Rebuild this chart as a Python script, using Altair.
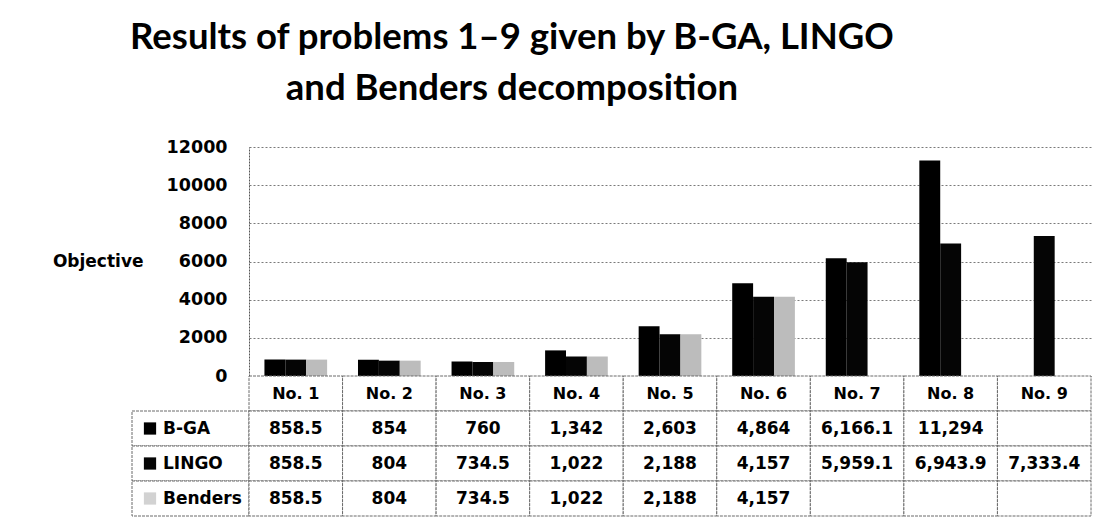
import altair as alt
import pandas as pd

categories = ["No. 1", "No. 2", "No. 3", "No. 4", "No. 5", "No. 6", "No. 7", "No. 8", "No. 9"]
series = ["B-GA", "LINGO", "Benders"]
bga = [858.5, 854, 760, 1342, 2603, 4864, 6166.1, 11294, None]
lingo = [858.5, 804, 734.5, 1022, 2188, 4157, 5959.1, 6943.9, 7333.4]
benders = [858.5, 804, 734.5, 1022, 2188, 4157, None, None, None]
y_ticks = [0, 2000, 4000, 6000, 8000, 10000, 12000]

bar_colors = ["#000000", "#050505", "#bcbcbc"]
key_colors = ["#000000", "#050505", "#d2d2d2"]


def fmt(v):
    if v is None:
        return ""
    s = f"{v:,.1f}"
    if s.endswith(".0"):
        s = s[:-2]
    return s


rows = []
for s, vals in zip(series, [bga, lingo, benders]):
    for c, v in zip(categories, vals):
        rows.append({"category": c, "series": s, "value": v, "text": fmt(v)})
df = pd.DataFrame(rows)
bars_df = df.dropna(subset=["value"]).reset_index(drop=True)

PLOT_W = 842
PLOT_H = 229
FONT = "DejaVu Sans"

bars = (
    alt.Chart(bars_df)
    .mark_bar()
    .encode(
        x=alt.X(
            "category:N",
            sort=categories,
            scale=alt.Scale(domain=categories, paddingInner=0.33, paddingOuter=0.165),
            axis=None,
        ),
        xOffset=alt.XOffset(
            "series:N",
            sort=series,
            scale=alt.Scale(domain=series, paddingInner=0, paddingOuter=0),
        ),
        y=alt.Y(
            "value:Q",
            scale=alt.Scale(domain=[0, 12000], nice=False),
            axis=alt.Axis(
                values=y_ticks,
                format="d",
                title="Objective",
                titleAngle=0,
                titleX=-106,
                titleY=PLOT_H / 2,
                titleAlign="right",
                titleBaseline="middle",
                titleFont=FONT,
                titleFontSize=17,
                titleFontWeight="bold",
                titleColor="#000000",
                labelFont=FONT,
                labelFontSize=17.5,
                labelFontWeight="bold",
                labelColor="#000000",
                labelPadding=22,
                ticks=False,
                domainColor="#555555",
                domainDash=[2, 1],
                grid=True,
                gridColor="#7a7a7a",
                gridDash=[2, 2],
                gridWidth=1,
            ),
        ),
        color=alt.Color(
            "series:N",
            scale=alt.Scale(domain=series, range=bar_colors),
            legend=None,
        ),
    )
    .properties(width=PLOT_W, height=PLOT_H)
)

# ---- data table under the plot ----
hdr_df = pd.DataFrame({"category": categories, "row": ["hdr"] * len(categories), "text": categories})
cell_df = df[["category", "series", "text"]].rename(columns={"series": "row"})
table_df = pd.concat([hdr_df, cell_df], ignore_index=True)
row_domain = ["hdr"] + series

x_tab = alt.X("category:N", sort=categories,
              scale=alt.Scale(domain=categories, paddingInner=0, paddingOuter=0), axis=None)
y_tab = alt.Y("row:N", sort=row_domain,
              scale=alt.Scale(domain=row_domain, paddingInner=0, paddingOuter=0), axis=None)

border = "#6a6a6a"

cells = alt.Chart(table_df).mark_rect(
    fill="white", stroke=border, strokeWidth=1, strokeDash=[3, 1]
).encode(x=x_tab, y=y_tab)

hdr_text = alt.Chart(table_df).transform_filter(alt.datum.row == "hdr").mark_text(
    font=FONT, fontSize=16, fontWeight="bold", color="#000000"
).encode(x=x_tab, y=y_tab, text="text:N")

val_text = alt.Chart(table_df).transform_filter(alt.datum.row != "hdr").mark_text(
    font=FONT, fontSize=17, fontWeight="bold", color="#000000"
).encode(x=x_tab, y=y_tab, text="text:N")

key_df = pd.DataFrame({"row": series})

key_cells = alt.Chart(key_df).mark_rect(
    fill="white", stroke=border, strokeWidth=1, strokeDash=[3, 1]
).encode(x=alt.value(-117), x2=alt.value(0), y=y_tab)

key_marks = alt.Chart(key_df).mark_square(size=150, opacity=1).encode(
    x=alt.value(-99),
    y=y_tab,
    color=alt.Color("row:N", scale=alt.Scale(domain=series, range=key_colors), legend=None),
)

key_text = alt.Chart(key_df).mark_text(
    font=FONT, fontSize=17, fontWeight="bold", color="#000000", align="left"
).encode(x=alt.value(-86), y=y_tab, text="row:N")

table = alt.layer(key_cells, cells, key_marks, key_text, hdr_text, val_text).properties(
    width=PLOT_W, height=140
)

chart = (
    alt.vconcat(bars, table, spacing=0, bounds="flush")
    .resolve_scale(x="independent", y="independent", color="independent")
    .properties(
        title=alt.TitleParams(
            ["Results of problems 1\u20139 given by B-GA, LINGO", "and Benders decomposition"],
            font="Lato",
            fontSize=36.5,
            fontWeight="bold",
            color="#000000",
            anchor="middle",
            lineHeight=51,
            dx=-60,
            offset=31,
        ),
        padding={"left": 44, "top": 11, "right": 5, "bottom": 5},
        background="white",
    )
    .configure_view(stroke=None)
)

chart.save("out.html", embed_options={"renderer": "svg", "actions": False})
